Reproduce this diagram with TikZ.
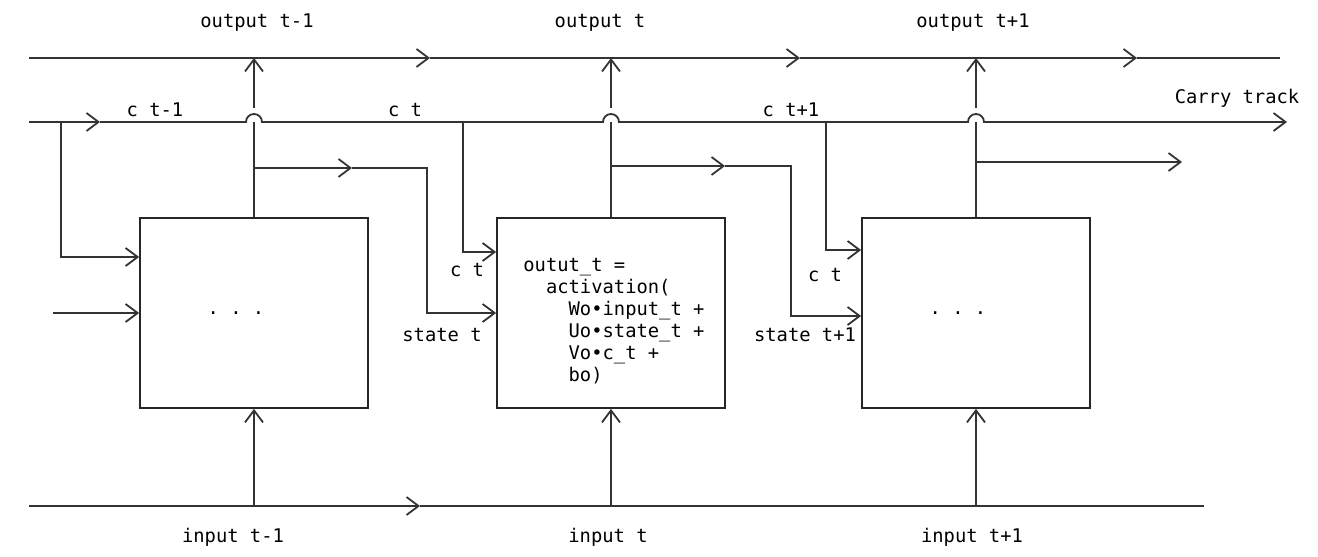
\documentclass[tikz,border=0pt]{standalone}
\usepackage{fontspec}
\setmonofont{DejaVu Sans Mono}
\usetikzlibrary{arrows.meta, positioning, calc}

\begin{document}
\begin{tikzpicture}[x=0.5pt, y=0.5pt,
    track/.style={draw=black!80, line width=0.9pt},
    chev/.style={-{Straight Barb[length=6pt, width=9pt]}},
    cell/.style={draw=black!85, line width=0.9pt, minimum width=114pt, minimum height=95pt, inner sep=0pt},
    lbl/.style={font=\ttfamily\fontsize{9.4}{11}\selectfont, inner sep=0pt}]

    \useasboundingbox (0,0) rectangle (1318,557);

    \node [cell] (b1) at (254,244) {};
    \node [cell] (b2) at (611,244) {};
    \node [cell] (b3) at (976,244) {};

    \node [lbl] (d1) at (236,244) {. . .};
    \node [lbl] (d3) at (958,244) {. . .};
    \node [lbl, anchor=north west, align=left] (eq) at (523,299)
      {outut\_t =\\\hphantom{xx}activation(\\\hphantom{xxxx}Wo•input\_t +\\
       \hphantom{xxxx}Uo•state\_t +\\\hphantom{xxxx}Vo•c\_t +\\\hphantom{xxxx}bo)};

    % output track
    \coordinate (o0) at (29,499);
    \coordinate (o1) at (430,499);
    \coordinate (o2) at (800,499);
    \coordinate (o3) at (1137,499);
    \coordinate (o4) at (1280,499);
    \draw [track, chev] (o0) -- (o1);
    \draw [track, chev] (o1) -- (o2);
    \draw [track, chev] (o2) -- (o3);
    \draw [track] (o3) -- (o4);

    % carry track
    \coordinate (c0) at (29,435);
    \coordinate (c1) at (100,435);
    \coordinate (c2) at (1287,435);
    \draw [track, chev] (c0) -- (c1);
    \draw [track, chev] (c1) -- ($(b1.north |- c0)+(-8,0)$) arc [start angle=180, end angle=0, radius=8]
      -- ($(b2.north |- c0)+(-8,0)$) arc [start angle=180, end angle=0, radius=8]
      -- ($(b3.north |- c0)+(-8,0)$) arc [start angle=180, end angle=0, radius=8]
      -- (c2);

    % input track
    \coordinate (i0) at (29,51);
    \coordinate (i1) at (420,51);
    \coordinate (i2) at (1204,51);
    \draw [track, chev] (i0) -- (i1);
    \draw [track] (i1) -- (i2);

    \foreach \b in {b1, b2, b3} {
      \draw [track] (\b.north) -- (\b.north |- c0);
      \draw [track, chev] ($(\b.north |- c0)+(0,14)$) -- (\b.north |- o0);
      \draw [track, chev] (\b.south |- i0) -- (\b.south);
    }

    % carry into the cells
    \coordinate (k1) at (61,435);
    \coordinate (k2) at (463,435);
    \coordinate (k3) at (826,435);
    \draw [track, chev] (k1) |- ($(b1.west)+(0,56)$);
    \draw [track, chev] (k2) |- ($(b2.west)+(0,61)$);
    \draw [track, chev] (k3) |- ($(b3.west)+(0,63)$);

    % state between the cells
    \coordinate (s0) at (53,244);
    \draw [track, chev] (s0) -- (b1.west);
    \coordinate (h1) at (254,389);
    \coordinate (h1m) at (352,389);
    \coordinate (h1r) at (427,389);
    \draw [track, chev] (h1) -- (h1m);
    \draw [track, chev] (h1m) -- (h1r) |- (b2.west);
    \coordinate (h2) at (611,391);
    \coordinate (h2m) at (725,391);
    \coordinate (h2r) at (791,391);
    \draw [track, chev] (h2) -- (h2m);
    \draw [track, chev] (h2m) -- (h2r) |- ($(b3.west)+(0,-3)$);
    \coordinate (h3) at (976,395);
    \coordinate (h3r) at (1182,395);
    \draw [track, chev] (h3) -- (h3r);

    % labels
    \node [lbl] (lo1) at (257,534) {output t-1};
    \node [lbl] (lo2) at (600,534) {output t};
    \node [lbl] (lo3) at (973,534) {output t+1};
    \node [lbl] (lc1) at (155,447) {c t-1};
    \node [lbl] (lc2) at (405,447) {c t};
    \node [lbl] (lc3) at (791,447) {c t+1};
    \node [lbl] (lcar) at (1237,459) {Carry track};
    \node [lbl] (lk2) at (467,287) {c t};
    \node [lbl] (ls2) at (442,222) {state t};
    \node [lbl] (lk3) at (825,282) {c t};
    \node [lbl] (ls3) at (805,222) {state t+1};
    \node [lbl] (li1) at (233,20) {input t-1};
    \node [lbl] (li2) at (608,20) {input t};
    \node [lbl] (li3) at (972,20) {input t+1};
\end{tikzpicture}
\end{document}
